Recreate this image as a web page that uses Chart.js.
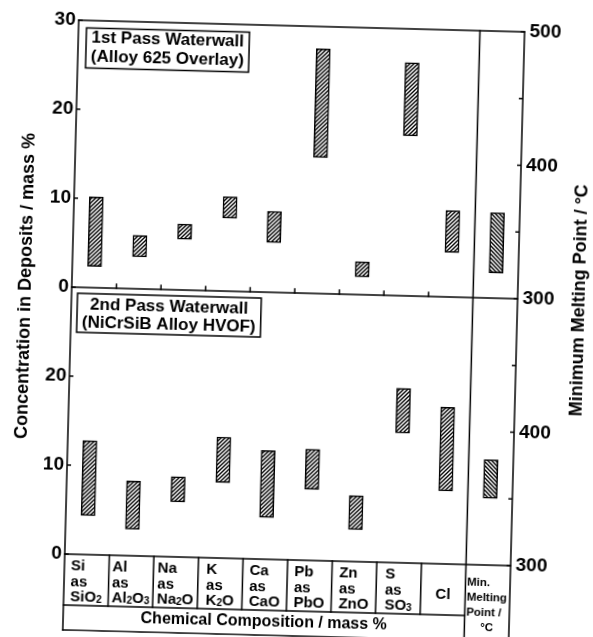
<!DOCTYPE html>
<html>
<head>
<meta charset="utf-8">
<script src="https://cdn.jsdelivr.net/npm/chart.js@4.4.1/dist/chart.umd.min.js"></script>
<style>
  html, body { margin: 0; padding: 0; background: #fff; overflow: hidden; }
  #wrap { width: 593px; height: 637px; transform: rotate(1.5deg); transform-origin: 50% 50%; }
  canvas { display: block; }
</style>
</head>
<body>
<div id="wrap"><canvas id="c" width="593" height="637"></canvas></div>
<script>
// Deposit constituents (columns) and the last column for the minimum melting point
const categories = ['Si as SiO2', 'Al as Al2O3', 'Na as Na2O', 'K as K2O', 'Ca as CaO',
                    'Pb as PbO', 'Zn as ZnO', 'S as SO3', 'Cl', 'Min. Melting Point / °C'];
// Table text, "_" marks a subscript digit
const categoryLines = [
  ['Si', 'as', 'SiO_2'], ['Al', 'as', 'Al_2O_3'], ['Na', 'as', 'Na_2O'], ['K', 'as', 'K_2O'],
  ['Ca', 'as', 'CaO'], ['Pb', 'as', 'PbO'], ['Zn', 'as', 'ZnO'], ['S', 'as', 'SO_3'], ['Cl']
];
const meltLines = ['Min.', 'Melting', 'Point /', '°C'];

// 1st pass waterwall (Alloy 625 overlay): concentration range, mass %
const firstPassLow  = [2.4, 3.6, 5.7, 8.2, 5.6, 15.3, 2.0, 18.0, 5.0];
const firstPassHigh = [10.2, 6.0, 7.4, 10.6, 9.1, 27.5, 3.7, 26.2, 9.7];
const firstPassMelt = [319, 364];   // °C

// 2nd pass waterwall (NiCrSiB alloy HVOF)
const secondPassLow  = [4.4, 3.0, 6.2, 8.5, 4.7, 8.0, 3.6, 14.6, 8.2];
const secondPassHigh = [12.8, 8.4, 9.0, 13.6, 12.2, 12.5, 7.4, 19.6, 17.6];
const secondPassMelt = [350, 379];  // °C

const concTicks = [0, 10, 20, 30];
const meltTicks = [300, 350, 400, 450, 500];
const panelTitles = [['1st Pass Waterwall', '(Alloy 625 Overlay)'],
                     ['2nd Pass Waterwall', '(NiCrSiB Alloy HVOF)']];
const leftTitle = 'Concentration in Deposits / mass %';
const rightTitle = 'Minimum Melting Point / °C';
const bottomTitle = 'Chemical Composition / mass %';

const FONT = '"Liberation Sans", Arial, Helvetica, sans-serif';
const canvas = document.getElementById('c');
const ctx0 = canvas.getContext('2d');

function makeHatch(back) {
  const s = 4;
  const c = document.createElement('canvas');
  c.width = s; c.height = s;
  const g = c.getContext('2d');
  g.fillStyle = '#fff'; g.fillRect(0, 0, s, s);
  g.strokeStyle = '#000'; g.lineWidth = 1.4;
  g.beginPath();
  if (!back) {
    g.moveTo(-1, s + 1); g.lineTo(s + 1, -1);
    g.moveTo(-1, 1); g.lineTo(1, -1);
    g.moveTo(s - 1, s + 1); g.lineTo(s + 1, s - 1);
  } else {
    g.moveTo(-1, -1); g.lineTo(s + 1, s + 1);
    g.moveTo(s - 1, -1); g.lineTo(s + 1, 1);
    g.moveTo(-1, s - 1); g.lineTo(1, s + 1);
  }
  g.stroke();
  return ctx0.createPattern(c, 'repeat');
}
const hatchFwd = makeHatch(false);
const hatchBack = makeHatch(true);

const ranges = (lo, hi) => lo.map((v, i) => [v, hi[i]]);
const nulls = n => Array(n).fill(null);

const barStyle = {
  grouped: false,
  barThickness: 14,
  borderColor: '#000',
  borderWidth: 1.5,
  borderSkipped: false
};

function concAxis(weight, hideTop) {
  return {
    type: 'linear', position: 'left', stack: 'conc', stackWeight: 1, weight: weight,
    min: 0, max: 30,
    grid: { display: false, drawTicks: false },
    border: { display: false },
    ticks: { stepSize: 10, padding: 3, color: '#000', font: { family: FONT, size: 19, weight: 'bold' } },
    afterBuildTicks: s => { s.ticks = s.ticks.filter(t => concTicks.includes(t.value) && !(hideTop && t.value === 30)); },
    afterFit: s => { s.width = 71; }
  };
}
function meltAxis(weight, hideTop) {
  return {
    type: 'linear', position: 'right', stack: 'melt', stackWeight: 1, weight: weight,
    min: 300, max: 500,
    grid: { display: false, drawTicks: false },
    border: { display: false },
    ticks: { stepSize: 100, padding: 5, color: '#000', font: { family: FONT, size: 19, weight: 'bold' } },
    afterBuildTicks: s => { s.ticks = s.ticks.filter(t => t.value % 100 === 0 && !(hideTop && t.value === 500)); },
    afterFit: s => { s.width = 76; }
  };
}

function line(ctx, x1, y1, x2, y2) {
  ctx.beginPath(); ctx.moveTo(x1, y1); ctx.lineTo(x2, y2); ctx.stroke();
}

// Text with small subscript digits written as "_2"
function richParts(text) {
  const parts = [];
  for (let i = 0; i < text.length; i++) {
    if (text[i] === '_') { parts.push({ t: text[i + 1], sub: true }); i++; }
    else parts.push({ t: text[i], sub: false });
  }
  return parts;
}
const mainFont = 'bold 15px ' + FONT, subFont = 'bold 10px ' + FONT;
function richWidth(ctx, text) {
  let w = 0;
  for (const p of richParts(text)) { ctx.font = p.sub ? subFont : mainFont; w += ctx.measureText(p.t).width; }
  return w;
}
function richDraw(ctx, text, x, y) {
  for (const p of richParts(text)) {
    ctx.font = p.sub ? subFont : mainFont;
    ctx.fillText(p.t, x, p.sub ? y + 1 : y);
    x += ctx.measureText(p.t).width;
  }
}

const framePlugin = {
  id: 'frame',
  afterDraw(chart) {
    const { ctx, chartArea: a, scales } = chart;
    const xs = scales.x, yT = scales.yTopL, yB = scales.yBotL, rT = scales.yTopR, rB = scales.yBotR;
    const L = a.left, R = a.right, T = a.top, B = a.bottom, M = yT.bottom;
    const edge = i => (xs.getPixelForValue(i) + xs.getPixelForValue(i + 1)) / 2;
    const sep = edge(8);
    const rowEnd = B + 51, tableEnd = 636;

    ctx.save();
    ctx.strokeStyle = '#000';
    ctx.fillStyle = '#000';
    ctx.lineWidth = 1.5;
    ctx.lineCap = 'square';
    // outer frame, panel divider and table grid
    line(ctx, L, T, R, T);
    line(ctx, L, M, R, M);
    line(ctx, L, B, R, B);
    line(ctx, L, T, L, tableEnd);
    line(ctx, R, T, R, tableEnd);
    line(ctx, sep, T, sep, tableEnd);
    line(ctx, L, rowEnd, sep, rowEnd);
    line(ctx, L, tableEnd, R, tableEnd);
    for (let i = 0; i < 8; i++) {
      line(ctx, edge(i), B, edge(i), rowEnd);
      line(ctx, edge(i), M, edge(i), M - 4);
    }
    // inward tick marks
    ctx.lineCap = 'butt';
    concTicks.forEach(v => line(ctx, L, yT.getPixelForValue(v), L + 4, yT.getPixelForValue(v)));
    concTicks.filter(v => v < 30).forEach(v => line(ctx, L, yB.getPixelForValue(v), L + 4, yB.getPixelForValue(v)));
    meltTicks.forEach(v => line(ctx, R - 4, rT.getPixelForValue(v), R, rT.getPixelForValue(v)));
    meltTicks.filter(v => v < 500).forEach(v => line(ctx, R - 4, rB.getPixelForValue(v), R, rB.getPixelForValue(v)));

    // table labels
    ctx.textBaseline = 'alphabetic';
    ctx.textAlign = 'left';
    categoryLines.forEach((lines, i) => {
      const cx = xs.getPixelForValue(i);
      if (lines.length === 1) {
        const w = richWidth(ctx, lines[0]);
        richDraw(ctx, lines[0], cx - w / 2, B + 35);
        return;
      }
      const maxW = Math.max(...lines.map(t => richWidth(ctx, t)));
      const x0 = cx - maxW / 2;
      const base = [B + 16, B + 31.5, B + 46.5];
      lines.forEach((t, k) => richDraw(ctx, t, x0, base[k]));
    });
    ctx.font = 'bold 11.5px ' + FONT;
    const meltBase = [B + 20.5, B + 35.5, B + 50.5, B + 66];
    meltLines.forEach((t, k) => {
      if (k === meltLines.length - 1) {
        ctx.textAlign = 'center';
        ctx.fillText(t, (sep + R) / 2, meltBase[k]);
        ctx.textAlign = 'left';
      } else {
        ctx.fillText(t, sep + 1.5, meltBase[k]);
      }
    });
    ctx.font = 'bold 16px ' + FONT;
    ctx.textAlign = 'center';
    ctx.fillText(bottomTitle, (L + sep) / 2, B + 67);

    // panel title boxes
    ctx.font = 'bold 17px ' + FONT;
    const boxes = [
      { x: L + 8, y: T + 7.5, h: 40, b: [14.5, 33] },
      { x: L + 6, y: M + 6, h: 39, b: [15.5, 34] }
    ];
    panelTitles.forEach((lines, k) => {
      const bx = boxes[k];
      const w = Math.max(...lines.map(t => ctx.measureText(t).width)) + 10;
      ctx.fillStyle = '#fff';
      ctx.fillRect(bx.x, bx.y, w, bx.h);
      ctx.lineWidth = 1.5;
      ctx.strokeRect(bx.x, bx.y, w, bx.h);
      ctx.fillStyle = '#000';
      lines.forEach((t, j) => ctx.fillText(t, bx.x + w / 2, bx.y + bx.b[j]));
    });

    // axis titles
    ctx.font = 'bold 18px ' + FONT;
    ctx.textBaseline = 'middle';
    ctx.save();
    ctx.translate(25, (T + B) / 2);
    ctx.rotate(-Math.PI / 2);
    ctx.fillText(leftTitle, 0, 0);
    ctx.restore();
    ctx.save();
    ctx.translate(579, (T + B) / 2);
    ctx.rotate(-Math.PI / 2);
    ctx.fillText(rightTitle, 0, 0);
    ctx.restore();
    ctx.restore();
  }
};

new Chart(canvas, {
  type: 'bar',
  data: {
    labels: categories,
    datasets: [
      { label: '1st pass', data: ranges(firstPassLow, firstPassHigh).concat([null]), yAxisID: 'yTopL', backgroundColor: hatchFwd, ...barStyle },
      { label: '1st pass melting point', data: nulls(9).concat([firstPassMelt]), yAxisID: 'yTopR', backgroundColor: hatchBack, ...barStyle },
      { label: '2nd pass', data: ranges(secondPassLow, secondPassHigh).concat([null]), yAxisID: 'yBotL', backgroundColor: hatchFwd, ...barStyle },
      { label: '2nd pass melting point', data: nulls(9).concat([secondPassMelt]), yAxisID: 'yBotR', backgroundColor: hatchBack, ...barStyle }
    ]
  },
  options: {
    responsive: false,
    animation: false,
    layout: { padding: { top: 26, bottom: 0, left: 0, right: 0 } },
    plugins: { legend: { display: false }, tooltip: { enabled: false } },
    scales: {
      x: {
        type: 'category', offset: true,
        grid: { display: false, drawTicks: false },
        border: { display: false },
        ticks: { display: false },
        afterFit: s => { s.height = 77; }
      },
      yTopL: concAxis(1, false),
      yBotL: concAxis(0, true),
      yTopR: meltAxis(0, false),
      yBotR: meltAxis(1, true)
    }
  },
  plugins: [framePlugin]
});
</script>
</body>
</html>
